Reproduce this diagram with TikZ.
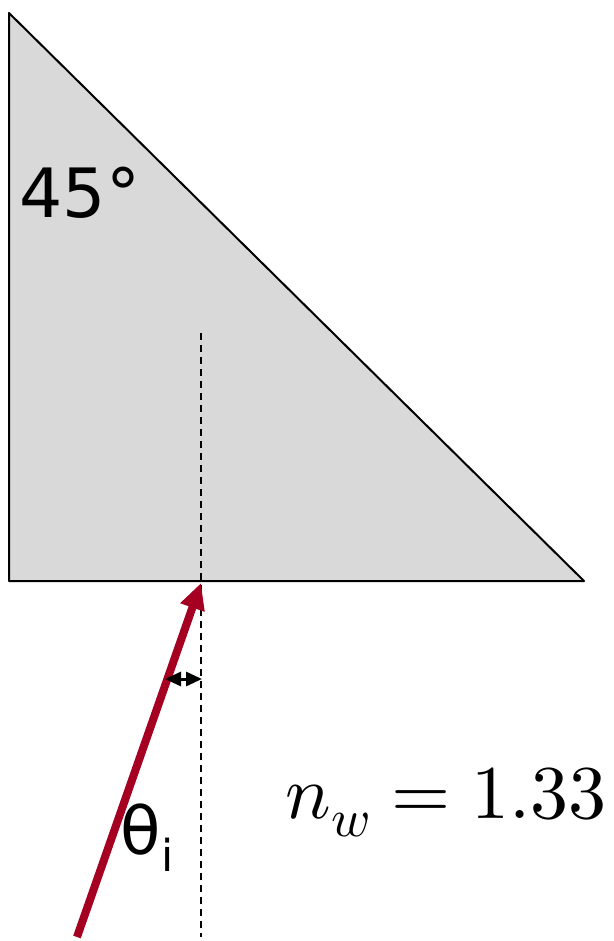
\documentclass[tikz,border=0pt]{standalone}
\usepackage{unicode-math}
\setsansfont{DejaVu Sans}
\usetikzlibrary{arrows.meta}
\definecolor{raycol}{RGB}{165,0,33}
\definecolor{prismgray}{RGB}{217,217,217}
\begin{document}
\begin{tikzpicture}[x=1pt, y=-1pt, line join=round, >={Triangle[length=26pt,width=24pt]}]
			\useasboundingbox (0,0) rectangle (613,941);
			\coordinate (top) at (9,13);
			\coordinate (bl) at (9,581);
			\coordinate (br) at (584,581);
			\coordinate (hit) at (201,583);
			\coordinate (ntop) at (201,333);
			\coordinate (nbot) at (201,937);
			\coordinate (src) at (77,937);
			\coordinate (al) at (165,679);
			\coordinate (ar) at (202,679);
			\draw[fill=prismgray, line width=2pt] (top) -- (bl) -- (br) -- cycle;
			\draw[dashed, line width=2pt, dash pattern=on 7pt off 5pt] (ntop) -- (nbot);
			\draw[->, raycol, line width=8pt] (src) -- (hit);
			\draw[{Triangle[length=16pt,width=14pt]}-{Triangle[length=16pt,width=14pt]}, line width=3pt] (al) -- (ar);
			\node (angle) at (80,193) {\sffamily\fontsize{68}{74}\selectfont 45°};
			\node (theta) at (147,838) {\sffamily\fontsize{66}{72}\selectfont θ\raisebox{-17pt}{\fontsize{44}{48}\selectfont i}};
			\node[anchor=base east] (index) at (610,818) {\fontsize{76}{80}\selectfont $n_w = 1.33$};
		\end{tikzpicture}
\end{document}
